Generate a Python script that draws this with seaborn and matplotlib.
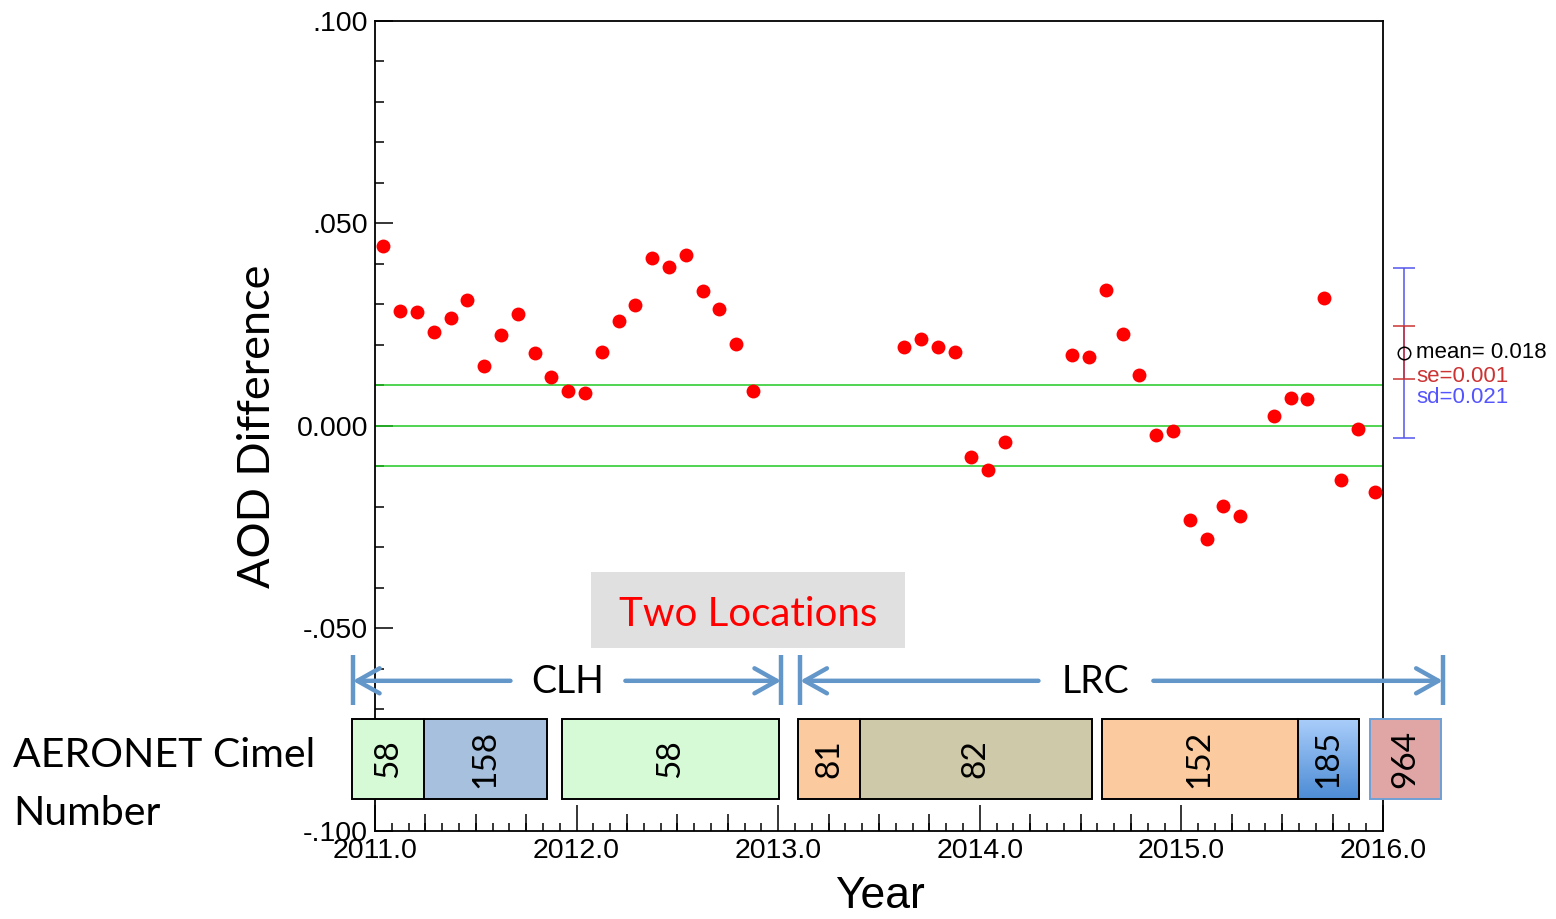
import matplotlib
matplotlib.use("Agg")
import matplotlib.pyplot as plt
import matplotlib.patches as mpatches
from matplotlib.colors import LinearSegmentedColormap
from matplotlib.ticker import MultipleLocator, FixedLocator, FuncFormatter
import numpy as np
import pandas as pd
import seaborn as sns

# monthly mean AOD difference
obs_month = ['2011-01', '2011-02', '2011-03', '2011-04', '2011-05', '2011-06',
             '2011-07', '2011-08', '2011-09', '2011-10', '2011-11', '2011-12',
             '2012-01', '2012-02', '2012-03', '2012-04', '2012-05', '2012-06',
             '2012-07', '2012-08', '2012-09', '2012-10', '2012-11',
             '2013-08', '2013-09', '2013-10', '2013-11', '2013-12',
             '2014-01', '2014-02', '2014-06', '2014-07', '2014-08', '2014-09',
             '2014-10', '2014-11', '2014-12', '2015-01', '2015-02', '2015-03',
             '2015-04', '2015-06', '2015-07', '2015-08', '2015-09', '2015-10',
             '2015-11', '2015-12']
aod_diff = [0.0443, 0.0283, 0.0280, 0.0231, 0.0265, 0.0311,
            0.0147, 0.0224, 0.0275, 0.0180, 0.0120, 0.0085,
            0.0080, 0.0182, 0.0259, 0.0298, 0.0413, 0.0392,
            0.0421, 0.0332, 0.0289, 0.0202, 0.0086,
            0.0194, 0.0215, 0.0194, 0.0182, -0.0077,
            -0.0110, -0.0040, 0.0175, 0.0169, 0.0335, 0.0227,
            0.0125, -0.0022, -0.0014, -0.0234, -0.0280, -0.0199,
            -0.0222, 0.0023, 0.0068, 0.0065, 0.0314, -0.0134,
            -0.0009, -0.0165]

# summary bar on the right
mean_diff = 0.018
sd_diff = 0.021
se_bar = 0.0066
stat_text = ['mean= 0.018', 'se=0.001', 'sd=0.021']
ref_lines = [0.01, 0.0, -0.01]

# instrument (Cimel) periods, in decimal years
cimel_number = ['58', '158', '58', '81', '82', '152', '185', '964']
cimel_start = [2010.886, 2011.243, 2011.927, 2013.098, 2013.405, 2014.605, 2015.577, 2015.934]
cimel_end = [2011.243, 2011.853, 2013.003, 2013.405, 2014.556, 2015.577, 2015.880, 2016.290]
cimel_color = ['#d5fad5', '#a6c0de', '#d5fad5', '#fbcb9f', '#cec9a8', '#fbcb9f', None, '#e0a5a5']
cimel_edge = ['black'] * 7 + ['#6f9fd5']

# site periods
site_name = ['CLH', 'LRC']
site_start = [2010.890, 2013.109]
site_end = [2013.015, 2016.297]
site_label_x = [2011.957, 2014.576]

df = pd.DataFrame({'month': pd.to_datetime(obs_month), 'diff': aod_diff})
df['year'] = df['month'].dt.year + (df['month'].dt.month - 0.5) / 12

sns.set_theme(style='white')
plt.rcParams['font.family'] = ['Liberation Sans', 'DejaVu Sans']
plt.rcParams['text.color'] = 'black'
plt.rcParams['axes.labelcolor'] = 'black'

W, H = 1556, 919
fig = plt.figure(figsize=(W / 100, H / 100), dpi=100)
ax = fig.add_axes([375 / W, 1 - 830.7 / H, (1383 - 375) / W, (830.7 - 20.5) / H])
ax.set_facecolor('white')

for v in ref_lines:
    ax.axhline(v, color='#22c922', lw=1.1, zorder=1)

sns.scatterplot(data=df, x='year', y='diff', color='red', s=100, linewidth=0, ax=ax, zorder=3)

ax.set_xlim(2011, 2016)
ax.set_ylim(-0.1, 0.1)
ax.set_xlabel('')
ax.set_ylabel('')

for s in ax.spines.values():
    s.set_color('black')
    s.set_linewidth(1.3)

ax.xaxis.set_major_locator(MultipleLocator(1))
ax.xaxis.set_minor_locator(MultipleLocator(1 / 12))
ax.xaxis.set_major_formatter(FuncFormatter(lambda v, p: f'{v:.1f}'))
ax.yaxis.set_major_locator(MultipleLocator(0.05))
ax.yaxis.set_minor_locator(MultipleLocator(0.01))


def aod_fmt(v, pos):
    if abs(v) < 1e-9:
        return '0.000'
    return f'{v:.3f}'.replace('0.', '.', 1)


ax.yaxis.set_major_formatter(FuncFormatter(aod_fmt))
ax.tick_params(axis='x', which='major', direction='in', length=18.5, width=1.1,
               bottom=True, top=False, labelsize=20.5, pad=5, colors='black')
ax.tick_params(axis='x', which='minor', direction='in', length=6, width=1.1,
               bottom=True, top=False, colors='black')
ax.tick_params(axis='y', which='major', direction='in', length=13, width=1.1,
               left=True, right=False, labelsize=20.5, pad=5, colors='black')
ax.tick_params(axis='y', which='minor', direction='in', length=6.5, width=1.1,
               left=True, right=False, colors='black')

# quarter ticks (medium length)
quarters = [y + q for y in range(2011, 2016) for q in (0.25, 0.5, 0.75)]
qax = ax.secondary_xaxis('bottom')
qax.xaxis.set_major_locator(FixedLocator(quarters))
qax.tick_params(axis='x', direction='in', length=12.2, width=1.1, bottom=True,
                labelbottom=False, colors='black')
qax.spines['bottom'].set_visible(False)

# summary error bars
x_err = 2016.103
for half, col in [(sd_diff, '#5555ee'), (se_bar, '#cc3333')]:
    eb = ax.errorbar([x_err], [mean_diff], yerr=[half], fmt='none', ecolor=col,
                     elinewidth=1.1, capsize=8, capthick=1.1, zorder=5)
    for art in eb.get_children():
        art.set_clip_on(False)
ax.plot([x_err], [mean_diff], 'o', ms=9, mfc='none', mec='black', mew=1.1, clip_on=False, zorder=6)
for txt, col, dy in zip(stat_text, ['black', '#cc3333', '#5555ff'], [0, -17, -32.6]):
    ax.annotate(txt, xy=(x_err, mean_diff), xytext=(9, dy), textcoords='offset points',
                ha='left', va='center', fontsize=16, color=col, annotation_clip=False)

# instrument boxes
box_bot, box_top = -0.0921, -0.0725
for num, x0, x1, fc, ec in zip(cimel_number, cimel_start, cimel_end, cimel_color, cimel_edge):
    if fc is None:
        grad = LinearSegmentedColormap.from_list('g185', ['#a9cdfa', '#4d8cd5'])
        im = ax.imshow(np.linspace(0, 1, 64).reshape(-1, 1), extent=[x0, x1, box_bot, box_top],
                       cmap=grad, aspect='auto', zorder=4, interpolation='bilinear')
        im.set_clip_on(False)
        rect = mpatches.Rectangle((x0, box_bot), x1 - x0, box_top - box_bot, fill=False,
                                  ec=ec, lw=1.4, zorder=4.5, clip_on=False)
    else:
        rect = mpatches.Rectangle((x0, box_bot), x1 - x0, box_top - box_bot, fc=fc,
                                  ec=ec, lw=1.4, zorder=4, clip_on=False)
    ax.add_patch(rect)
    ax.text((x0 + x1) / 2, (box_bot + box_top) / 2, num, rotation=90, ha='center', va='center',
            fontsize=24, family=['Lato', 'DejaVu Sans'], color='black', zorder=6, clip_on=False)

# site arrows
arrow_c = '#6497c9'
arrow_y = -0.0630
gap = 0.285
for name, x0, x1, xc in zip(site_name, site_start, site_end, site_label_x):
    for xe in (x0, x1):
        ax.plot([xe, xe], [-0.0690, -0.0566], color=arrow_c, lw=3.2, clip_on=False,
                solid_capstyle='butt', zorder=5)
    ax.annotate('', xy=(x0, arrow_y), xytext=(xc - gap, arrow_y),
                arrowprops=dict(arrowstyle='->,head_length=0.8,head_width=0.45', color=arrow_c,
                                lw=3.2, mutation_scale=20, shrinkA=0, shrinkB=0),
                annotation_clip=False, zorder=5)
    ax.annotate('', xy=(x1, arrow_y), xytext=(xc + gap, arrow_y),
                arrowprops=dict(arrowstyle='->,head_length=0.8,head_width=0.45', color=arrow_c,
                                lw=3.2, mutation_scale=20, shrinkA=0, shrinkB=0),
                annotation_clip=False, zorder=5)
    ax.text(xc, arrow_y - 0.0004, name, ha='center', va='center', fontsize=27,
            family=['Lato', 'DejaVu Sans'], color='black', clip_on=False, zorder=6)

# "Two Locations" note
ax.add_patch(mpatches.Rectangle((2012.071, -0.0549), 2013.628 - 2012.071, 0.0188,
                                fc='#e0e0e0', ec='none', zorder=4))
ax.text((2012.071 + 2013.628) / 2, -0.0467, 'Two Locations', ha='center', va='center',
        fontsize=29, color='#ff0000', family=['Lato', 'DejaVu Sans'], zorder=5)

# labels
fig.text(257 / W, 1 - 426 / H, 'AOD Difference', rotation=90, ha='center', va='center',
         fontsize=32.5, family=['Lato', 'DejaVu Sans'])
fig.text(880 / W, 1 - 897 / H, 'Year', ha='center', va='center', fontsize=32)
fig.text(13 / W, 1 - 767 / H, 'AERONET Cimel', ha='left', va='baseline', fontsize=29.5,
         family=['Lato', 'DejaVu Sans'])
fig.text(13 / W, 1 - 825 / H, 'Number', ha='left', va='baseline', fontsize=29.5,
         family=['Lato', 'DejaVu Sans'])

fig.savefig('out.png', dpi=100)
